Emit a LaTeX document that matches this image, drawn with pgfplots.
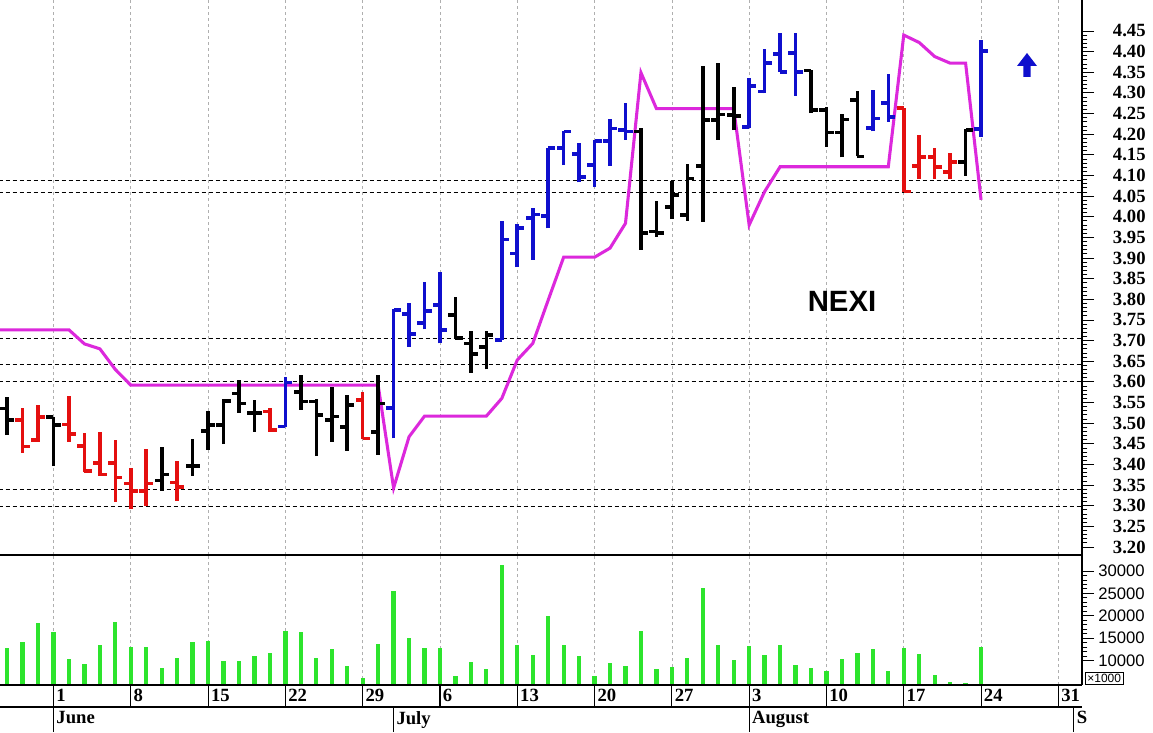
\documentclass[border=0pt]{standalone}
\usepackage{fontspec}
\setmainfont{Liberation Serif}
\newfontfamily\arial{Liberation Sans}
\usepackage{pgfplots}
\usepackage{pgfplotstable}
\pgfplotsset{compat=1.18}
\definecolor{barblue}{RGB}{15,15,205}
\definecolor{barred}{RGB}{228,15,15}
\definecolor{magline}{RGB}{220,40,220}
\definecolor{volgreen}{RGB}{45,228,45}
\definecolor{gridgray}{RGB}{175,175,175}

\pgfplotstableread{
x o h l c
-3 3.535 3.564 3.471 3.508
0 3.515 3.516 3.396 3.496
7 3.361 3.443 3.336 3.376
9 3.396 3.462 3.373 3.396
10 3.481 3.530 3.435 3.496
11 3.496 3.559 3.449 3.554
12 3.572 3.605 3.525 3.548
13 3.525 3.556 3.479 3.525
16 3.576 3.617 3.532 3.552
17 3.552 3.558 3.420 3.520
18 3.508 3.588 3.455 3.516
19 3.491 3.568 3.433 3.544
21 3.479 3.617 3.423 3.548
26 3.762 3.806 3.706 3.706
27 3.693 3.722 3.622 3.668
28 3.685 3.724 3.630 3.714
38 4.206 4.214 3.920 3.960
39 3.964 4.037 3.952 3.960
40 4.024 4.087 3.994 4.053
41 4.004 4.128 3.990 4.093
42 4.123 4.365 3.988 4.234
43 4.234 4.372 4.186 4.248
44 4.247 4.315 4.210 4.244
49 4.354 4.356 4.251 4.259
50 4.259 4.265 4.170 4.204
51 4.204 4.249 4.144 4.236
52 4.283 4.305 4.146 4.146
59 4.133 4.212 4.099 4.210
}\blackbars

\pgfplotstableread{
x o h l c
-2 3.508 3.537 3.428 3.443
-1 3.459 3.544 3.455 3.515
1 3.497 3.566 3.455 3.473
2 3.445 3.475 3.381 3.384
3 3.403 3.478 3.373 3.376
4 3.403 3.459 3.310 3.368
5 3.354 3.392 3.292 3.336
6 3.336 3.437 3.300 3.354
8 3.356 3.408 3.312 3.346
14 3.528 3.536 3.479 3.483
20 3.556 3.576 3.461 3.463
55 4.263 4.263 4.061 4.061
56 4.123 4.198 4.091 4.144
57 4.144 4.166 4.091 4.121
58 4.109 4.154 4.091 4.133
}\redbars

\pgfplotstableread{
x o h l c
15 3.492 3.611 3.490 3.598
22 3.536 3.776 3.463 3.774
23 3.764 3.790 3.685 3.716
24 3.742 3.843 3.727 3.772
25 3.786 3.865 3.693 3.726
29 3.701 3.990 3.701 3.945
30 3.911 3.982 3.878 3.972
31 3.997 4.020 3.896 4.005
32 4.002 4.166 3.972 4.166
33 4.166 4.208 4.125 4.206
34 4.152 4.178 4.083 4.096
35 4.125 4.186 4.073 4.184
36 4.184 4.236 4.123 4.214
37 4.210 4.275 4.186 4.206
45 4.218 4.335 4.214 4.317
46 4.303 4.406 4.299 4.372
47 4.394 4.444 4.351 4.351
48 4.396 4.444 4.293 4.351
53 4.215 4.307 4.207 4.238
54 4.276 4.346 4.230 4.242
60 4.212 4.427 4.194 4.402
}\bluebars

\pgfplotstableread{
x y
-4 3.726
1 3.726
2 3.692
3 3.680
4 3.630
5 3.592
21 3.592
22 3.343
23 3.467
24 3.517
28 3.517
29 3.560
30 3.653
31 3.693
32 3.798
33 3.902
35 3.902
36 3.924
37 3.984
38 4.349
39 4.262
44 4.262
45 3.980
46 4.061
47 4.121
54 4.121
55 4.440
56 4.422
57 4.388
58 4.372
59 4.372
60 4.041
}\magdata

\pgfplotstableread{
x v
-3 12850
-2 14050
-1 18300
0 16290
1 10250
2 9260
3 13380
4 18590
5 13070
6 13070
7 8230
8 10540
9 14050
10 14410
11 9940
12 9940
13 10920
14 11590
15 16580
16 16290
17 10540
18 12480
19 8680
20 6070
21 13670
22 25600
23 15080
24 12700
25 12700
26 6440
27 9570
28 8080
29 31340
30 13380
31 11140
32 19870
33 13380
34 10900
35 6510
36 9350
37 8750
38 16650
39 8080
40 8600
41 10600
42 26270
43 13450
44 10090
45 13220
46 11210
47 13450
48 8970
49 8370
50 7700
51 10310
52 11590
53 12550
54 7700
55 12700
56 11430
57 6740
58 5100
59 4880
60 13070
}\voldata

\newcommand{\ohlc}[2]{%
  \addplot[draw=none, forget plot, error bars/.cd, y dir=plus, y explicit, error mark=none,
    error bar style={draw=#2, line width=2.7pt}]
    table[x=x, y=l, y error expr=\thisrow{h}-\thisrow{l}] {#1};
  \addplot[draw=none, forget plot, error bars/.cd, x dir=both, x explicit, error mark=none,
    error bar style={draw=#2, line width=2.7pt}]
    table[x expr=\thisrow{x}-0.23, y=o, x error expr=0.23] {#1};
  \addplot[draw=none, forget plot, error bars/.cd, x dir=both, x explicit, error mark=none,
    error bar style={draw=#2, line width=2.7pt}]
    table[x expr=\thisrow{x}+0.23, y=c, x error expr=0.23] {#1};
}

\begin{document}
\begin{tikzpicture}
\useasboundingbox (0pt,0pt) rectangle (864.75pt,549pt);
\fill[white] (0pt,0pt) rectangle (864.75pt,549pt);

% price panel
\begin{axis}[
  at={(0pt,132.75pt)}, anchor=south west, scale only axis,
  width=811.5pt, height=416.25pt,
  xmin=-3.46, xmax=66.53, ymin=3.1806, ymax=4.525,
  axis x line*=bottom, axis y line*=right,
  axis line style={-, line width=0.8pt},
  xtick={0,5,...,65}, xticklabels={}, xmajorgrids,
  xtick style={draw=none},
  grid style={gridgray, dash pattern=on 2.25pt off 2.25pt, line width=0.5pt},
  ytick={3.20,3.25,3.30,3.35,3.40,3.45,3.50,3.55,3.60,3.65,3.70,3.75,3.80,3.85,3.90,3.95,4.00,4.05,4.10,4.15,4.20,4.25,4.30,4.35,4.40,4.45},
  yticklabels={3.20,3.25,3.30,3.35,3.40,3.45,3.50,3.55,3.60,3.65,3.70,3.75,3.80,3.85,3.90,3.95,4.00,4.05,4.10,4.15,4.20,4.25,4.30,4.35,4.40,4.45},
  minor y tick num=4,
  ytick style={black, line width=0.6pt},
  tick align=outside, major tick length=9pt, minor tick length=4pt,
  yticklabel style={font=\bfseries\fontsize{14}{16}\selectfont, anchor=west, inner sep=0pt, xshift=14pt},
]
\foreach \yy in {4.087,4.058,3.704,3.641,3.602,3.340,3.299} {
  \edef\tmp{\noexpand\addplot[black, dash pattern=on 3pt off 2.25pt, line width=0.75pt, forget plot] coordinates {(-4,\yy) (67,\yy)};}
  \tmp
}
\addplot[magline, line width=2.3pt, forget plot] table[x=x, y=y] {\magdata};
\ohlc{\blackbars}{black}
\ohlc{\redbars}{barred}
\ohlc{\bluebars}{barblue}
\end{axis}

% volume panel
\begin{axis}[
  at={(0pt,35.25pt)}, anchor=south west, scale only axis,
  width=811.5pt, height=97.5pt,
  xmin=-3.46, xmax=66.53, ymin=4497, ymax=33580,
  axis x line*=bottom, axis y line*=right,
  axis line style={-, line width=0.8pt},
  xtick={0,5,...,65}, xticklabels={}, xmajorgrids,
  xtick style={draw=none},
  grid style={gridgray, dash pattern=on 2.25pt off 2.25pt, line width=0.5pt},
  scaled y ticks=false,
  ytick={10000,15000,20000,25000,30000},
  yticklabels={10000,15000,20000,25000,30000},
  minor y tick num=4,
  ytick style={black, line width=0.6pt},
  tick align=outside, major tick length=9pt, minor tick length=4pt,
  yticklabel style={font=\arial\fontsize{12.5}{14}\selectfont, anchor=west, inner sep=0pt, xshift=3pt},
]
\addplot[ycomb, volgreen, line width=3.2pt, forget plot] table[x=x, y=v] {\voldata};
\end{axis}

% day row
\begin{axis}[
  at={(0pt,18.75pt)}, anchor=south west, scale only axis,
  width=811.5pt, height=16.5pt,
  xmin=-3.46, xmax=66.53, ymin=0, ymax=1,
  axis x line=top, axis y line=none,
  axis line style={-, line width=0.8pt},
  xtick={0,5,...,65},
  xticklabels={1,8,15,22,29,6,13,20,27,3,10,17,24,31},
  tick align=inside, major tick length=16.5pt,
  xtick style={black, line width=0.8pt},
  xticklabel style={anchor=north west, font=\bfseries\fontsize{14}{16}\selectfont, inner sep=0pt, xshift=2pt, yshift=-3pt},
]
\addplot[draw=none, forget plot] coordinates {(0,0.5)};
\end{axis}

% month row
\begin{axis}[
  at={(0pt,0pt)}, anchor=south west, scale only axis,
  width=811.5pt, height=18.75pt,
  xmin=-3.46, xmax=66.53, ymin=0, ymax=1,
  axis x line=top, axis y line=none,
  axis line style={-, line width=0.8pt},
  xtick={0,22,45,66},
  xticklabels={June,July,August,S},
  tick align=inside, major tick length=18.75pt,
  xtick style={black, line width=0.8pt},
  xticklabel style={anchor=north west, font=\bfseries\fontsize{14}{16}\selectfont, inner sep=0pt, xshift=2pt, yshift=-3pt},
]
\addplot[draw=none, forget plot] coordinates {(0,0.5)};
\end{axis}

% decorations
\node[font=\arial\bfseries\fontsize{22}{24}\selectfont] at (631.5pt,323.25pt) {NEXI};
\node[draw=black, line width=0.5pt, fill=white, font=\arial\fontsize{9}{10}\selectfont, inner sep=1.5pt, anchor=south west] at (813.75pt,35.25pt) {\texttimes1000};
\fill[barblue] (770.25pt,509.25pt) -- (777.75pt,499.5pt) -- (772.9pt,499.5pt) -- (772.9pt,491.25pt) -- (767.6pt,491.25pt) -- (767.6pt,499.5pt) -- (762.75pt,499.5pt) -- cycle;
\end{tikzpicture}
\end{document}
